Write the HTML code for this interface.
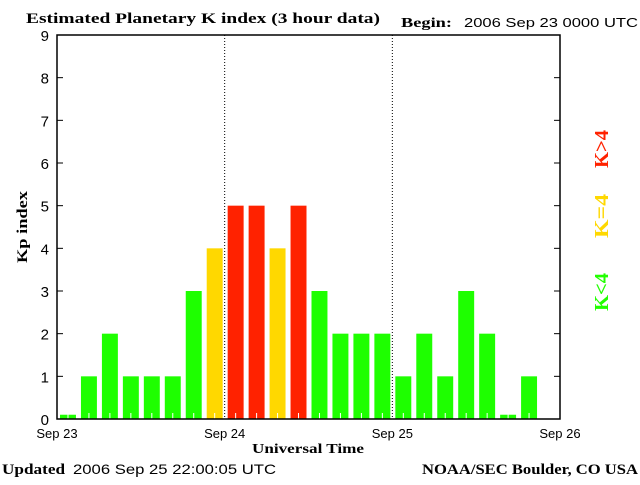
<!DOCTYPE html>
<html><head><meta charset="utf-8"><style>
body{margin:0;background:#fff;width:640px;height:480px;overflow:hidden}
svg text{font-family:"Liberation Sans",sans-serif}
</style></head><body>
<svg id="chart" width="640" height="480" xmlns="http://www.w3.org/2000/svg">
<text x="26" y="23" font-size="15" textLength="354" lengthAdjust="spacingAndGlyphs" style="font-family:'Liberation Serif',serif;font-weight:bold">Estimated Planetary K index (3 hour data)</text>
<text x="401" y="27" font-size="14" textLength="51" lengthAdjust="spacingAndGlyphs" style="font-family:'Liberation Serif',serif;font-weight:bold">Begin:</text>
<text x="464" y="27" font-size="13" textLength="174" lengthAdjust="spacingAndGlyphs">2006 Sep 23 0000 UTC</text>
<g id="plot"></g>
<text x="308" y="453" font-size="14" text-anchor="middle" textLength="112" lengthAdjust="spacingAndGlyphs" style="font-family:'Liberation Serif',serif;font-weight:bold">Universal Time</text>
<text transform="translate(27,227) rotate(-90)" font-size="15" text-anchor="middle" textLength="72" lengthAdjust="spacingAndGlyphs" style="font-family:'Liberation Serif',serif;font-weight:bold">Kp index</text>
<text transform="translate(608,149) rotate(-90)" font-size="20" fill="#ff2200" text-anchor="middle" textLength="38" lengthAdjust="spacingAndGlyphs" style="font-family:'Liberation Serif',serif;font-weight:bold">K&gt;4</text>
<text transform="translate(608,216) rotate(-90)" font-size="20" fill="#ffd800" text-anchor="middle" textLength="44" lengthAdjust="spacingAndGlyphs" style="font-family:'Liberation Serif',serif;font-weight:bold">K=4</text>
<text transform="translate(608,292) rotate(-90)" font-size="20" fill="#22ff00" text-anchor="middle" textLength="38" lengthAdjust="spacingAndGlyphs" style="font-family:'Liberation Serif',serif;font-weight:bold">K&lt;4</text>
<text x="2" y="474" font-size="15" textLength="63" lengthAdjust="spacingAndGlyphs" style="font-family:'Liberation Serif',serif;font-weight:bold">Updated</text>
<text x="73" y="474" font-size="14" textLength="203" lengthAdjust="spacingAndGlyphs">2006 Sep 25 22:00:05 UTC</text>
<text x="422" y="474" font-size="15" textLength="216" lengthAdjust="spacingAndGlyphs" style="font-family:'Liberation Serif',serif;font-weight:bold">NOAA/SEC Boulder, CO USA</text>
</svg>
<script>
const kpValues=[0.1,1,2,1,1,1,3,4,5,5,4,5,3,2,2,2,1,2,1,3,2,0.1,1];
const yTicks=[0,1,2,3,4,5,6,7,8,9];
const dayLabels=["Sep 23","Sep 24","Sep 25","Sep 26"];
const NS="http://www.w3.org/2000/svg";
const L=57,R=560,T=35,B=419;
const slotW=(R-L)/24;
const y=v=>B-(v/9)*(B-T);
const x=i=>L+i*slotW;
const g=document.getElementById('plot');
function mk(t,a){const e=document.createElementNS(NS,t);for(const k in a)e.setAttribute(k,a[k]);g.appendChild(e);return e;}
kpValues.forEach((v,i)=>{
  const c=v>4?'#ff2200':(v==4?'#ffd800':'#1eff00');
  const r=mk('rect',{x:x(i)+3,y:y(v),width:slotW-5,height:B-y(v),fill:c});
  
  
  const tk=mk('line',{x1:x(i)+slotW/2+0.5,x2:x(i)+slotW/2+0.5,y1:B-6,y2:B,stroke:'#fff','stroke-width':1});
  
  
});
[1,2].forEach(d=>{
  const ln=mk('line',{x1:L+d*8*slotW,x2:L+d*8*slotW,y1:T,y2:B,stroke:'#000','stroke-dasharray':'1,2'});
  
  
});
const fr=mk('rect',{x:L,y:T,width:R-L,height:B-T,fill:'none',stroke:'#000','stroke-width':1.5});


yTicks.forEach(t=>{
  const a=mk('line',{x1:L,x2:L+6,y1:y(t),y2:y(t),stroke:'#000'});
  
  
  const b=mk('line',{x1:R-6,x2:R,y1:y(t),y2:y(t),stroke:'#000'});
  
  
  const tx=mk('text',{x:L-8,y:y(t)+6,'font-size':15,'text-anchor':'end'});
  tx.textContent=t;
  
  
});
dayLabels.forEach((d,i)=>{
  const tx=mk('text',{x:L+i*8*slotW,y:438,'font-size':13,'text-anchor':'middle'});
  tx.textContent=d;
  
  
});
</script>
</body></html>
